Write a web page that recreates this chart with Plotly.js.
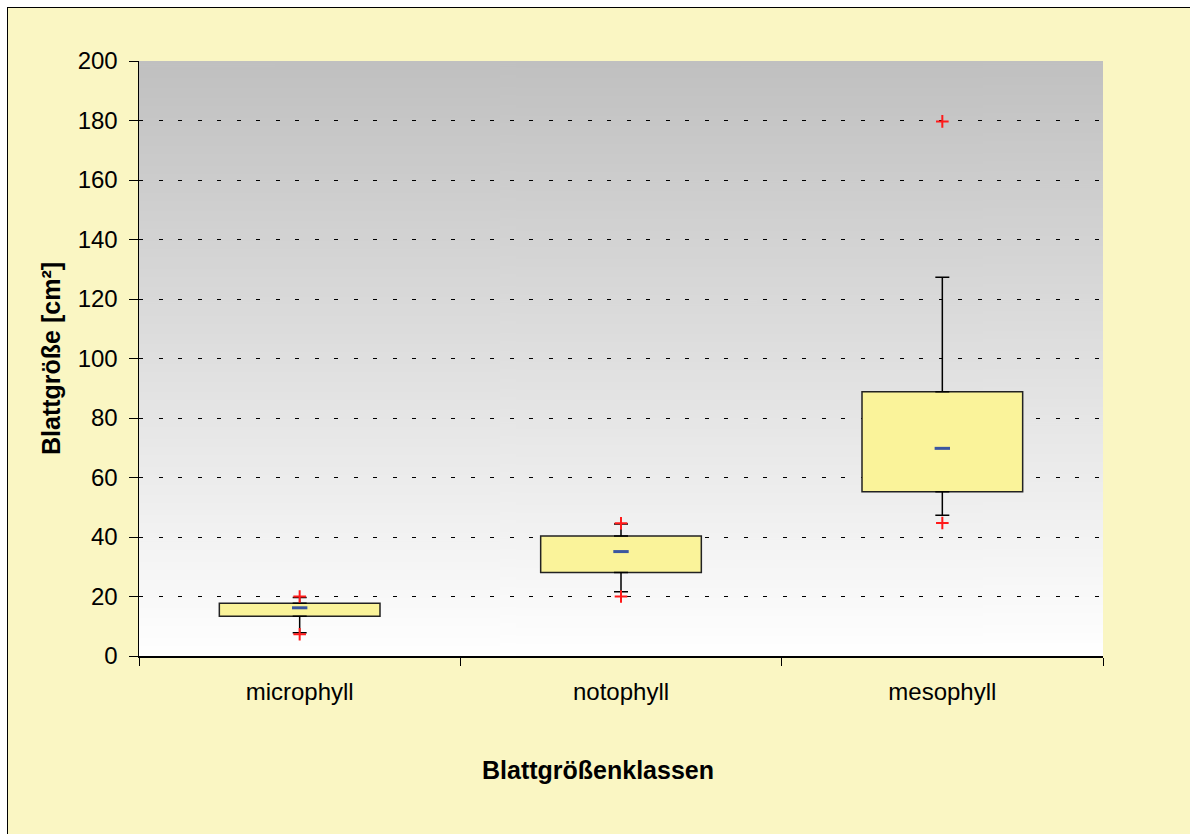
<!DOCTYPE html>
<html>
<head>
<meta charset="utf-8">
<script src="https://cdn.plot.ly/plotly-3.0.1.min.js"></script>
<style>
  html, body { margin:0; padding:0; background:#ffffff; overflow:hidden; width:1190px; height:834px; }
  #frame { position:absolute; left:7px; top:7px; width:1220px; height:900px; border:1px solid #000; background:#FAF6C3; }
  #chart { position:absolute; left:0; top:0; width:1190px; height:834px; }
</style>
</head>
<body>
<div id="frame"></div>
<div id="chart"></div>
<script>
// ---- data ----
const categories = ['microphyll', 'notophyll', 'mesophyll'];
const q1 = [13.4, 28.1, 55.2];
const q3 = [17.7, 40.3, 88.8];
const median = [16.2, 35.1, 69.8];
const whiskerLow = [7.8, 21.6, 47.3];
const whiskerHigh = [19.7, 44.4, 127.3];
const minVal = [7.3, 20.0, 44.7];
const maxVal = [20.0, 44.6, 179.7];
const yTicks = [0, 20, 40, 60, 80, 100, 120, 140, 160, 180, 200];
const xTitle = 'Blattgrößenklassen';
const yTitle = 'Blattgröße [cm²]';

// gradient background for the plot area
function gradientURL() {
  const c = document.createElement('canvas');
  c.width = 4; c.height = 600;
  const g = c.getContext('2d');
  const gr = g.createLinearGradient(0, 0, 0, 600);
  gr.addColorStop(0, '#C0C0C0');
  gr.addColorStop(1, '#FFFFFF');
  g.fillStyle = gr;
  g.fillRect(0, 0, 4, 600);
  return c.toDataURL('image/png');
}

const font = 'Liberation Sans, Arial, sans-serif';

const traces = [
  {
    type: 'bar', x: categories, base: q1,
    y: q3.map((v, i) => v - q1[i]),
    width: 0.5,
    marker: { color: '#FAF39A', line: { color: '#222222', width: 1.5 } },
    hoverinfo: 'skip', showlegend: false
  },
  {
    type: 'scatter', mode: 'markers', x: categories, y: q3,
    marker: { size: 1, color: 'rgba(0,0,0,0)' },
    error_y: { type: 'data', symmetric: false,
      array: whiskerHigh.map((v, i) => v - q3[i]),
      arrayminus: q3.map(() => 0),
      color: '#000000', thickness: 1.5, width: 7 },
    hoverinfo: 'skip', showlegend: false
  },
  {
    type: 'scatter', mode: 'markers', x: categories, y: q1,
    marker: { size: 1, color: 'rgba(0,0,0,0)' },
    error_y: { type: 'data', symmetric: false,
      array: q1.map(() => 0),
      arrayminus: q1.map((v, i) => v - whiskerLow[i]),
      color: '#000000', thickness: 1.5, width: 7 },
    hoverinfo: 'skip', showlegend: false
  },
  {
    type: 'scatter', mode: 'markers', x: categories, y: median,
    marker: { symbol: 'line-ew', size: 11, line: { color: '#3A56A0', width: 3 } },
    showlegend: false
  },
  {
    type: 'scatter', mode: 'markers', x: categories.concat(categories), y: minVal.concat(maxVal),
    marker: { symbol: 'cross-thin', size: 9, line: { color: '#FF1A1A', width: 2 } },
    showlegend: false
  }
];

const layout = {
  width: 1190, height: 834,
  margin: { l: 139, r: 87, t: 61, b: 178 },
  paper_bgcolor: 'rgba(0,0,0,0)',
  plot_bgcolor: 'rgba(0,0,0,0)',
  font: { family: font, size: 24, color: '#000000' },
  barmode: 'overlay',
  showlegend: false,
  images: [{
    source: gradientURL(), xref: 'paper', yref: 'paper',
    x: 0, y: 1, sizex: 1, sizey: 1, xanchor: 'left', yanchor: 'top',
    sizing: 'stretch', layer: 'below'
  }],
  annotations: [{
    text: xTitle, xref: 'paper', yref: 'paper',
    x: 0.476, y: -0.1916, xanchor: 'center', yanchor: 'middle',
    showarrow: false,
    font: { family: font, size: 25, color: '#000000', weight: 'bold' }
  }],
  xaxis: {
    type: 'category', tickson: 'boundaries',
    ticks: 'outside', ticklen: 8, tickwidth: 1, tickcolor: '#000000',
    showline: true, linecolor: '#000000', linewidth: 1.5,
    showgrid: false, zeroline: false,
    tickfont: { family: font, size: 24, color: '#000000' },
    ticklabelstandoff: 14
  },
  yaxis: {
    range: [0, 200], tickvals: yTicks,
    ticks: 'outside', ticklen: 9, tickwidth: 1, tickcolor: '#000000',
    showline: true, linecolor: '#000000', linewidth: 1.5,
    showgrid: true, gridcolor: '#000000', gridwidth: 1, griddash: '4px,15.5px',
    zeroline: false,
    tickfont: { family: font, size: 24, color: '#000000' },
    ticklabelstandoff: 6,
    title: { text: yTitle, standoff: 10,
      font: { family: font, size: 25, color: '#000000', weight: 'bold' } }
  }
};

Plotly.newPlot('chart', traces, layout, { displayModeBar: false, staticPlot: true });
</script>
</body>
</html>
